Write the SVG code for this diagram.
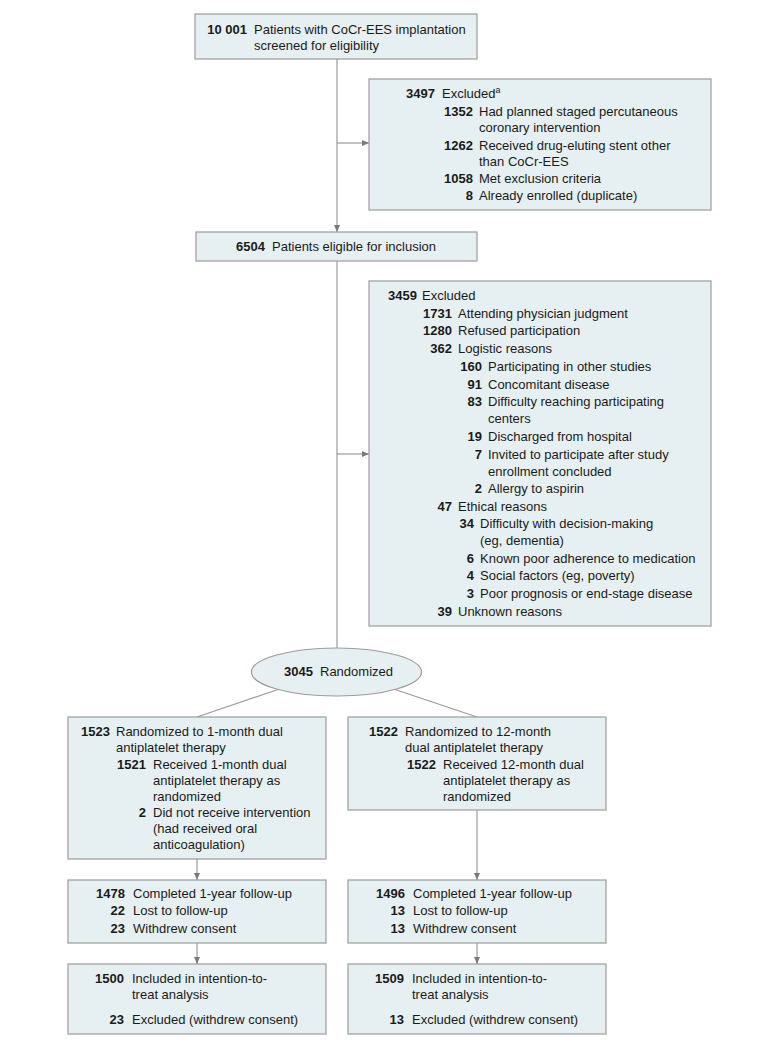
<svg xmlns="http://www.w3.org/2000/svg" width="780" height="1047" viewBox="0 0 780 1047">
<style>
.bg{fill:#ffffff}
.box{fill:#e6f0f3;stroke:#9c9c9c;stroke-width:1.2}
.ln{fill:none;stroke:#9a9a9a;stroke-width:1.2}
text{font-family:"Liberation Sans",Arial,sans-serif;font-size:13px;fill:#1a1a1a}
.n{font-weight:bold;text-anchor:end}
</style>
<defs>
<marker id="ah" markerUnits="userSpaceOnUse" markerWidth="7" markerHeight="7" refX="7" refY="3.5" orient="auto">
<path d="M0,0.5 L7,3.5 L0,6.5 z" fill="#7a7a7a"/>
</marker>
</defs>
<rect class="bg" x="0" y="0" width="780" height="1047"/>

<g id="connectors">
<line class="ln" x1="337" y1="59" x2="337" y2="232" marker-end="url(#ah)"/>
<line class="ln" x1="337" y1="143" x2="369" y2="143" marker-end="url(#ah)"/>
<line class="ln" x1="337" y1="261" x2="337" y2="648"/>
<line class="ln" x1="337" y1="454" x2="369" y2="454" marker-end="url(#ah)"/>
<line class="ln" x1="278" y1="689.5" x2="197" y2="717"/>
<line class="ln" x1="395" y1="689.5" x2="477" y2="717"/>
<line class="ln" x1="197" y1="859" x2="197" y2="880" marker-end="url(#ah)"/>
<line class="ln" x1="477" y1="810" x2="477" y2="880" marker-end="url(#ah)"/>
<line class="ln" x1="197" y1="943" x2="197" y2="964" marker-end="url(#ah)"/>
<line class="ln" x1="477" y1="943" x2="477" y2="964" marker-end="url(#ah)"/>
</g>

<g id="screened">
<rect class="box" x="195" y="14" width="282" height="45"/>
<text class="n" x="247" y="34">10 001</text>
<text x="254" y="34">Patients with CoCr-EES implantation</text>
<text x="254" y="50">screened for eligibility</text>
</g>

<g id="excluded1">
<rect class="box" x="369" y="79" width="342" height="131"/>
<text class="n" x="435" y="98">3497</text>
<text x="442" y="98">Excluded<tspan font-size="9" dy="-5">a</tspan></text>
<text class="n" x="473" y="116">1352</text>
<text x="479" y="116">Had planned staged percutaneous</text>
<text x="479" y="132">coronary intervention</text>
<text class="n" x="473" y="150">1262</text>
<text x="479" y="150">Received drug-eluting stent other</text>
<text x="479" y="166">than CoCr-EES</text>
<text class="n" x="473" y="183">1058</text>
<text x="479" y="183">Met exclusion criteria</text>
<text class="n" x="473" y="200">8</text>
<text x="479" y="200">Already enrolled (duplicate)</text>
</g>

<g id="eligible">
<rect class="box" x="196" y="232" width="281" height="29"/>
<text class="n" x="265" y="251">6504</text>
<text x="272" y="251">Patients eligible for inclusion</text>
</g>

<g id="excluded2">
<rect class="box" x="369" y="281" width="342" height="345"/>
<text class="n" x="417" y="300">3459</text>
<text x="422" y="300">Excluded</text>
<text class="n" x="452" y="318">1731</text>
<text x="458" y="318">Attending physician judgment</text>
<text class="n" x="452" y="335">1280</text>
<text x="458" y="335">Refused participation</text>
<text class="n" x="452" y="353">362</text>
<text x="458" y="353">Logistic reasons</text>
<text class="n" x="482" y="371">160</text>
<text x="488" y="371">Participating in other studies</text>
<text class="n" x="482" y="389">91</text>
<text x="488" y="389">Concomitant disease</text>
<text class="n" x="482" y="406">83</text>
<text x="488" y="406">Difficulty reaching participating</text>
<text x="488" y="423">centers</text>
<text class="n" x="482" y="441">19</text>
<text x="488" y="441">Discharged from hospital</text>
<text class="n" x="482" y="459">7</text>
<text x="488" y="459">Invited to participate after study</text>
<text x="488" y="476">enrollment concluded</text>
<text class="n" x="482" y="493">2</text>
<text x="488" y="493">Allergy to aspirin</text>
<text class="n" x="452" y="511">47</text>
<text x="458" y="511">Ethical reasons</text>
<text class="n" x="474" y="528">34</text>
<text x="480" y="528">Difficulty with decision-making</text>
<text x="480" y="545">(eg, dementia)</text>
<text class="n" x="474" y="563">6</text>
<text x="480" y="563">Known poor adherence to medication</text>
<text class="n" x="474" y="580">4</text>
<text x="480" y="580">Social factors (eg, poverty)</text>
<text class="n" x="474" y="598">3</text>
<text x="480" y="598">Poor prognosis or end-stage disease</text>
<text class="n" x="452" y="616">39</text>
<text x="458" y="616">Unknown reasons</text>
</g>

<g id="randomized">
<ellipse class="box" cx="336.5" cy="672" rx="85" ry="24"/>
<text class="n" x="313" y="676">3045</text>
<text x="320" y="676">Randomized</text>
</g>

<g id="arm1">
<rect class="box" x="68" y="717" width="258" height="142"/>
<text class="n" x="110" y="736">1523</text>
<text x="116" y="736">Randomized to 1-month dual</text>
<text x="116" y="752">antiplatelet therapy</text>
<text class="n" x="146" y="769">1521</text>
<text x="153" y="769">Received 1-month dual</text>
<text x="153" y="785">antiplatelet therapy as</text>
<text x="153" y="801">randomized</text>
<text class="n" x="146" y="817">2</text>
<text x="153" y="817">Did not receive intervention</text>
<text x="153" y="833">(had received oral</text>
<text x="153" y="849">anticoagulation)</text>
</g>

<g id="arm12">
<rect class="box" x="348" y="717" width="258" height="93"/>
<text class="n" x="398" y="736">1522</text>
<text x="405" y="736">Randomized to 12-month</text>
<text x="405" y="752">dual antiplatelet therapy</text>
<text class="n" x="436" y="769">1522</text>
<text x="443" y="769">Received 12-month dual</text>
<text x="443" y="785">antiplatelet therapy as</text>
<text x="443" y="801">randomized</text>
</g>

<g id="followup1">
<rect class="box" x="68" y="880" width="258" height="63"/>
<text class="n" x="125" y="898">1478</text>
<text x="133" y="898">Completed 1-year follow-up</text>
<text class="n" x="125" y="915">22</text>
<text x="133" y="915">Lost to follow-up</text>
<text class="n" x="125" y="933">23</text>
<text x="133" y="933">Withdrew consent</text>
</g>

<g id="followup12">
<rect class="box" x="348" y="880" width="258" height="63"/>
<text class="n" x="405" y="898">1496</text>
<text x="413" y="898">Completed 1-year follow-up</text>
<text class="n" x="405" y="915">13</text>
<text x="413" y="915">Lost to follow-up</text>
<text class="n" x="405" y="933">13</text>
<text x="413" y="933">Withdrew consent</text>
</g>

<g id="itt1">
<rect class="box" x="68" y="964" width="258" height="70"/>
<text class="n" x="124" y="983">1500</text>
<text x="132" y="983">Included in intention-to-</text>
<text x="132" y="999">treat analysis</text>
<text class="n" x="124" y="1024">23</text>
<text x="132" y="1024">Excluded (withdrew consent)</text>
</g>

<g id="itt12">
<rect class="box" x="348" y="964" width="258" height="70"/>
<text class="n" x="404" y="983">1509</text>
<text x="412" y="983">Included in intention-to-</text>
<text x="412" y="999">treat analysis</text>
<text class="n" x="404" y="1024">13</text>
<text x="412" y="1024">Excluded (withdrew consent)</text>
</g>
</svg>
